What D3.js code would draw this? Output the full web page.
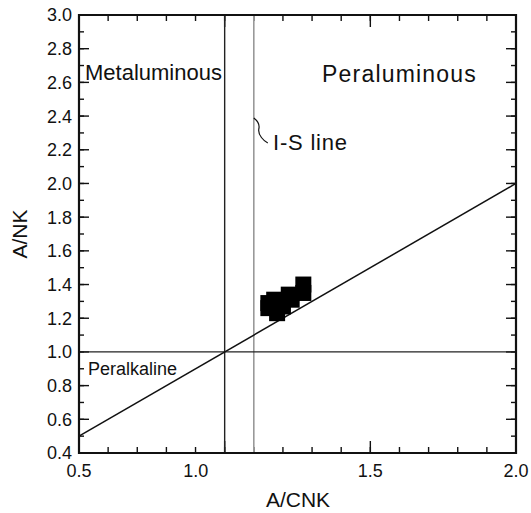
<!DOCTYPE html>
<html>
<head>
<meta charset="utf-8">
<script src="https://cdn.jsdelivr.net/npm/d3@7"></script>
<style>
  body { margin: 0; background: #fff; }
  text { font-family: "Liberation Sans", Arial, sans-serif; fill: #111; }
</style>
</head>
<body>
<div class="container"></div>
<script>
// sample points, A/CNK vs A/NK
const acnk = [1.27, 1.27, 1.22, 1.23, 1.17, 1.15, 1.15, 1.18, 1.20];
const ank  = [1.40, 1.35, 1.34, 1.31, 1.31, 1.29, 1.26, 1.23, 1.27];

const xMajor = [0.5, 1.0, 1.5, 2.0];
const yMajor = [0.4, 0.6, 0.8, 1.0, 1.2, 1.4, 1.6, 1.8, 2.0, 2.2, 2.4, 2.6, 2.8, 3.0];

const metalBoundary = 1.0;   // A/CNK = 1
const isLine = 1.1;          // I-S line
const alkBoundary = 1.0;     // A/NK = 1

const margin = { top: 15, right: 15, bottom: 60, left: 79 },
    width = 531 - margin.left - margin.right,
    height = 513 - margin.top - margin.bottom;

const svg = d3.select(".container")
    .append("svg")
    .attr("width", 531)
    .attr("height", 513)
    .append("g")
    .attr("transform", `translate(${margin.left}, ${margin.top})`);

const x = d3.scaleLinear().domain([0.5, 2.0]).range([0, 437]);
const y = d3.scaleLinear().domain([0.4, 3.0]).range([438, 0]);

const xMinor = d3.range(5, 21).map(d => d / 10);
const yMinor = d3.range(4, 31).map(d => d / 10);

// ticks (inward, all four sides)
function xticks(vals, len) {
  svg.selectAll(null).data(vals).enter().append("line")
      .attr("x1", d => x(d)).attr("x2", d => x(d))
      .attr("y1", 438).attr("y2", 438 - len)
      .attr("stroke", "#111").attr("stroke-width", 1.4);
  svg.selectAll(null).data(vals).enter().append("line")
      .attr("x1", d => x(d)).attr("x2", d => x(d))
      .attr("y1", 0).attr("y2", len)
      .attr("stroke", "#111").attr("stroke-width", 1.4);
}
xticks(xMinor, 6);
xticks(xMajor, 12);

function yticks(vals, len) {
  svg.selectAll(null).data(vals).enter().append("line")
      .attr("x1", 0).attr("x2", len)
      .attr("y1", d => y(d)).attr("y2", d => y(d))
      .attr("stroke", "#111").attr("stroke-width", 1.4);
  svg.selectAll(null).data(vals).enter().append("line")
      .attr("x1", 437).attr("x2", 437 - len)
      .attr("y1", d => y(d)).attr("y2", d => y(d))
      .attr("stroke", "#111").attr("stroke-width", 1.4);
}
yticks(yMinor, 5);
yticks(yMajor, 10);

// tick labels
svg.selectAll(".xlab").data(xMajor).enter().append("text")
    .attr("x", d => x(d) + (d === 1.0 ? -29 : 0))
    .attr("y", 462)
    .attr("text-anchor", "middle")
    .style("font-size", "18px")
    .text(d => d.toFixed(1));

svg.selectAll(".ylab").data(yMajor).enter().append("text")
    .attr("x", -7)
    .attr("y", d => y(d))
    .attr("dy", "0.36em")
    .attr("text-anchor", "end")
    .style("font-size", "18px")
    .text(d => d.toFixed(1));

// reference lines
svg.append("line")
    .attr("x1", x(metalBoundary)).attr("x2", x(metalBoundary))
    .attr("y1", 0).attr("y2", 438)
    .attr("stroke", "#222").attr("stroke-width", 1.4);
svg.append("line")
    .attr("x1", x(isLine)).attr("x2", x(isLine))
    .attr("y1", 0).attr("y2", 438)
    .attr("stroke", "#999").attr("stroke-width", 1.6);
svg.append("line")
    .attr("x1", 0).attr("x2", 437)
    .attr("y1", y(alkBoundary)).attr("y2", y(alkBoundary))
    .attr("stroke", "#222").attr("stroke-width", 1.4);
svg.append("line")
    .attr("x1", x(0.5)).attr("y1", y(0.5))
    .attr("x2", x(2.0)).attr("y2", y(2.0))
    .attr("stroke", "#111").attr("stroke-width", 1.5);

// frame
svg.append("path")
    .attr("d", `M0,0V438H437V0Z`)
    .attr("fill", "none")
    .attr("stroke", "#111")
    .attr("stroke-width", 2.2);

// data squares
const s = 16;
svg.selectAll(".dot").data(acnk).enter().append("rect")
    .attr("class", "dot")
    .attr("x", d => x(d) - s / 2)
    .attr("y", (d, i) => y(ank[i]) - s / 2)
    .attr("width", s).attr("height", s)
    .attr("fill", "#000");

// region labels
svg.append("text").attr("x", 6).attr("y", 65)
    .style("font-size", "22px").text("Metaluminous");
svg.append("text").attr("x", 243).attr("y", 67)
    .style("font-size", "23px").style("letter-spacing", "1.2px").text("Peraluminous");
svg.append("text").attr("x", 9).attr("y", 360)
    .style("font-size", "18px").text("Peralkaline");
svg.append("text").attr("x", 194).attr("y", 135)
    .style("font-size", "22px").style("letter-spacing", "0.8px").text("I-S line");

// leader for I-S line
const lx = x(isLine);
svg.append("path")
    .attr("d", `M${lx},${103} C${lx + 4},${106} ${lx + 6},${110} ${lx + 5},${114} C${lx + 4},${120} ${lx + 10},${126} ${lx + 14},${128}`)
    .attr("fill", "none")
    .attr("stroke", "#111")
    .attr("stroke-width", 1.2);

// axis titles
svg.append("text")
    .attr("x", 219).attr("y", 492)
    .attr("text-anchor", "middle")
    .style("font-size", "21px")
    .text("A/CNK");
svg.append("text")
    .attr("transform", `translate(${20 - margin.left + 7}, 219) rotate(-90)`)
    .attr("text-anchor", "middle")
    .style("font-size", "21px")
    .text("A/NK");
</script>
</body>
</html>
